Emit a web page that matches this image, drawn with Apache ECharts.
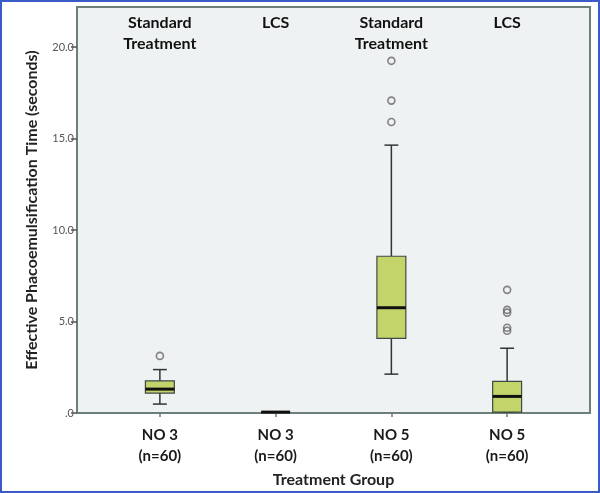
<!DOCTYPE html>
<html>
<head>
<meta charset="utf-8">
<script src="https://cdn.jsdelivr.net/npm/echarts@6/dist/echarts.min.js"></script>
<style>
  html, body { margin: 0; padding: 0; background: #fff; }
  #chart { width: 600px; height: 493px; }
  #edge { position: absolute; left: 0; top: 0; width: 600px; height: 493px;
          box-sizing: border-box; border: 2px solid #3a5bc7; pointer-events: none; }
</style>
</head>
<body>
<div id="chart"></div>
<div id="edge"></div>
<script>
// groups along the x axis
var groupLabels = ['NO 3\n(n=60)', 'NO 3\n(n=60)', 'NO 5\n(n=60)', 'NO 5\n(n=60)'];
var treatments = ['Standard\nTreatment', 'LCS', 'Standard\nTreatment', 'LCS'];

// whisker low, Q1, median, Q3, whisker high (seconds)
var lowWhisker = [0.44, 0, 2.08, 0];
var q1 = [1.04, 0, 4.04, 0];
var median = [1.26, 0, 5.72, 0.86];
var q3 = [1.71, 0, 8.54, 1.68];
var highWhisker = [2.33, 0, 14.63, 3.50];

// outliers: [group index, value]
var outliers = [
  [0, 3.08],
  [2, 15.9], [2, 17.07], [2, 19.25],
  [3, 4.46], [3, 4.62], [3, 5.45], [3, 5.6], [3, 6.7]
];

var yTicks = [0, 5, 10, 15, 20];

var boxData = [];
for (var i = 0; i < groupLabels.length; i++) {
  boxData.push([i, lowWhisker[i], q1[i], median[i], q3[i], highWhisker[i]]);
}

var font = 'Lato, "Open Sans", sans-serif';
var chart = echarts.init(document.getElementById('chart'));

function renderBox(params, api) {
  var idx = api.value(0);
  var pLow = api.coord([idx, api.value(1)]);
  var pQ1 = api.coord([idx, api.value(2)]);
  var pMed = api.coord([idx, api.value(3)]);
  var pQ3 = api.coord([idx, api.value(4)]);
  var pHigh = api.coord([idx, api.value(5)]);
  var band = api.size([1, 0])[0];
  var half = band * 0.125;
  var cap = band * 0.06;
  var x = pMed[0];
  var lineStyle = { stroke: '#2f3633', lineWidth: 1.5 };
  var children = [
    { type: 'line', shape: { x1: x, y1: pQ3[1], x2: x, y2: pHigh[1] }, style: lineStyle },
    { type: 'line', shape: { x1: x, y1: pQ1[1], x2: x, y2: pLow[1] }, style: lineStyle },
    { type: 'line', shape: { x1: x - cap, y1: pHigh[1], x2: x + cap, y2: pHigh[1] }, style: lineStyle },
    { type: 'line', shape: { x1: x - cap, y1: pLow[1], x2: x + cap, y2: pLow[1] }, style: lineStyle },
    { type: 'rect', shape: { x: x - half, y: pQ3[1], width: half * 2, height: pQ1[1] - pQ3[1] },
      style: { fill: '#c3d46b', stroke: '#3e4a45', lineWidth: 1.2 } },
    { type: 'line', shape: { x1: x - half, y1: pMed[1], x2: x + half, y2: pMed[1] },
      style: { stroke: '#111', lineWidth: 3 } }
  ];
  return { type: 'group', children: children };
}

chart.setOption({
  animation: false,
  grid: [
    { left: 77, right: 10, top: 7, bottom: 80, show: true,
      backgroundColor: '#eff2f2', borderColor: '#6d7f7a', borderWidth: 2 },
    { left: 102, right: 35, top: 7, bottom: 80 }
  ],
  xAxis: [
    { gridIndex: 0, type: 'value', show: false, min: 0, max: 1 },
    {
      gridIndex: 1, type: 'category', data: groupLabels,
      name: 'Treatment Group', nameLocation: 'middle', nameGap: 57,
      nameTextStyle: { fontFamily: font, fontWeight: 'bold', fontSize: 16, color: '#222' },
      axisLine: { show: false },
      axisTick: { show: true, alignWithLabel: true, length: 5, lineStyle: { color: '#777', width: 1.5 } },
      axisLabel: { margin: 13, fontFamily: font, fontWeight: 'bold', fontSize: 15,
                   lineHeight: 21, color: '#1a1a1a' }
    },
    {
      gridIndex: 1, type: 'category', data: treatments, position: 'top',
      axisLine: { show: false }, axisTick: { show: false },
      axisLabel: { inside: true, margin: 5, fontFamily: font, fontWeight: 'bold', fontSize: 16,
                   lineHeight: 21, color: '#111' }
    }
  ],
  yAxis: [
    {
      gridIndex: 0, type: 'value', min: 0, max: 22.2,
      name: 'Effective Phacoemulsification Time (seconds)', nameLocation: 'middle', nameGap: 37,
      nameTextStyle: { fontFamily: font, fontWeight: 'bold', fontSize: 16, color: '#222' },
      splitLine: { show: false },
      axisLine: { show: true, lineStyle: { color: '#6d7f7a', width: 2 } },
      axisTick: { show: true, length: 6, customValues: yTicks, lineStyle: { color: '#555', width: 1.5 } },
      axisLabel: {
        customValues: yTicks, margin: 3, fontFamily: font, fontSize: 11, color: '#555',
        formatter: function (v) { return v === 0 ? '.0' : v.toFixed(1); }
      }
    },
    { gridIndex: 1, type: 'value', min: 0, max: 22.2, show: false }
  ],
  series: [
    {
      type: 'custom', xAxisIndex: 1, yAxisIndex: 1,
      renderItem: renderBox, data: boxData,
      encode: { x: 0, y: [1, 2, 3, 4, 5] }, clip: false, z: 3
    },
    {
      type: 'scatter', xAxisIndex: 1, yAxisIndex: 1, data: outliers,
      symbol: 'circle', symbolSize: 7, z: 4,
      itemStyle: { color: 'rgba(0,0,0,0)', borderColor: '#666', borderWidth: 1.6 }
    }
  ]
});
</script>
</body>
</html>
